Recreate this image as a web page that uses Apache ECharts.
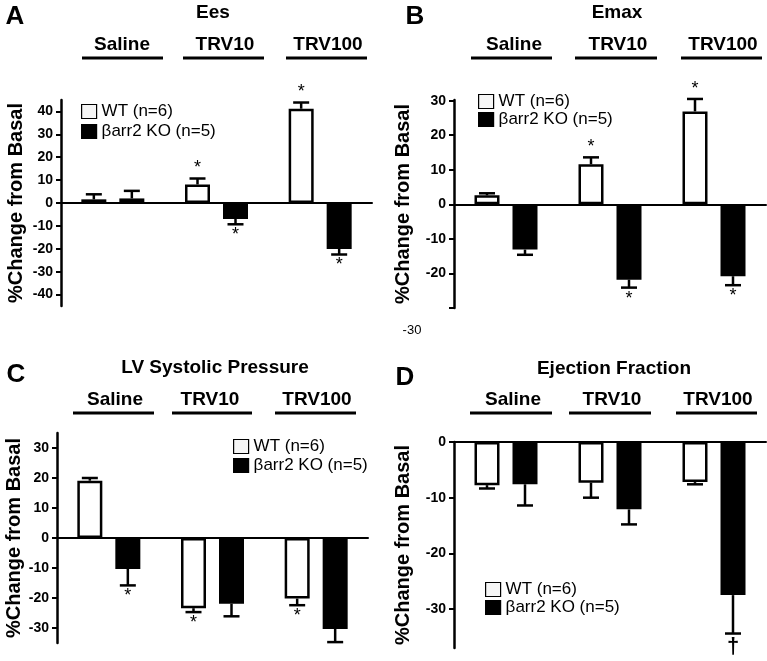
<!DOCTYPE html>
<html><head><meta charset="utf-8">
<script src="https://cdn.jsdelivr.net/npm/echarts@6/dist/echarts.min.js"></script>
<style>html,body{margin:0;padding:0;background:#fff}#c{width:767px;height:661px}</style>
</head><body><div id="c"></div>
<script>
// ---------- data ----------
const categories = ['Saline', 'TRV10', 'TRV100'];
const nameWT = 'WT (n=6)';
const nameKO = 'βarr2 KO (n=5)';
const yAxisName = '%Change from Basal';

// Panel A: Ees
const eesWT = [1.6, 8.1, 41.2];
const eesWTSem = [2.2, 2.6, 2.7];
const eesKO = [2.0, -7.0, -20.1];
const eesKOSem = [3.3, 2.3, 2.4];
const eesWTMark = ['', '*', '*'];
const eesKOMark = ['', '*', '*'];
const eesTicks = [-40, -30, -20, -10, 0, 10, 20, 30, 40];

// Panel B: Emax
const emaxWT = [2.6, 11.6, 26.9];
const emaxWTSem = [0.6, 2.0, 3.6];
const emaxKO = [-13.1, -21.8, -20.8];
const emaxKOSem = [1.5, 2.3, 2.6];
const emaxWTMark = ['', '*', '*'];
const emaxKOMark = ['', '*', '*'];
const emaxTicks = [-30, -20, -10, 0, 10, 20, 30];
const emaxLabels = [-20, -10, 0, 10, 20, 30];

// Panel C: LV Systolic Pressure
const lvspWT = [19.1, -23.4, -20.2];
const lvspWTSem = [0.9, 1.3, 2.2];
const lvspKO = [-10.3, -21.9, -30.3];
const lvspKOSem = [5.5, 4.2, 4.4];
const lvspWTMark = ['', '*', '*'];
const lvspKOMark = ['*', '', ''];
const lvspTicks = [-30, -20, -10, 0, 10, 20, 30];

// Panel D: Ejection Fraction
const efWT = [-7.75, -7.3, -7.2];
const efWTSem = [0.6, 2.7, 0.4];
const efKO = [-7.6, -12.1, -27.5];
const efKOSem = [3.8, 2.7, 6.9];
const efWTMark = ['', '', ''];
const efKOMark = ['', '', '†'];
const efTicks = [-30, -20, -10, 0];

// ---------- layout / style ----------
const FONT = '"Liberation Sans", Arial, sans-serif';
const BAR_W = 25, BAR_GAP_PX = 13, BORDER = 2.5;
const OFFSET = (BAR_W + BAR_GAP_PX) / 2;

const panels = [
  { letter: 'A', title: 'Ees', wt: eesWT, wtSem: eesWTSem, ko: eesKO, koSem: eesKOSem, wtMark: eesWTMark, koMark: eesKOMark,
    ticks: eesTicks, labels: eesTicks, min: -45, max: 45, nameGap: 34.5,
    grid: { left: 61, top: 100, width: 311, height: 206 }, legend: { left: 81, top: 103, gap: 3 } },
  { letter: 'B', title: 'Emax', wt: emaxWT, wtSem: emaxWTSem, ko: emaxKO, koSem: emaxKOSem, wtMark: emaxWTMark, koMark: emaxKOMark,
    ticks: emaxTicks, labels: emaxLabels, min: -30, max: 30.2, nameGap: 41,
    grid: { left: 454, top: 100, width: 312, height: 208 }, legend: { left: 478, top: 93, gap: 1 } },
  { letter: 'C', title: 'LV Systolic Pressure', wt: lvspWT, wtSem: lvspWTSem, ko: lvspKO, koSem: lvspKOSem, wtMark: lvspWTMark, koMark: lvspKOMark,
    ticks: lvspTicks, labels: lvspTicks, min: -35, max: 35, nameGap: 33,
    grid: { left: 57, top: 433, width: 311, height: 210 }, legend: { left: 233, top: 438, gap: 2 } },
  { letter: 'D', title: 'Ejection Fraction', wt: efWT, wtSem: efWTSem, ko: efKO, koSem: efKOSem, wtMark: efWTMark, koMark: efKOMark,
    ticks: efTicks, labels: efTicks, min: -37, max: 0, nameGap: 41,
    grid: { left: 454, top: 442, width: 312, height: 206 }, legend: { left: 485, top: 581, gap: 1 } }
];

// header annotations: [centerX, centerY] and underlines [x1, x2, y]
const letterPos = [[15, 17], [415, 17], [16, 375], [405, 378]];
const titlePos = [[213, 13], [617, 13], [215, 368], [614, 369]];
const groupTextPos = [
  [[122, 45], [225, 45], [328, 45]],
  [[514, 45], [618, 45], [723, 45]],
  [[115, 400], [210, 400], [317, 400]],
  [[513, 400], [612, 400], [718, 400]]
];
const underlines = [
  [[82, 163, 58], [183, 264, 58], [286, 367, 58]],
  [[471, 552, 58], [575, 657, 58], [681, 762, 58]],
  [[73, 154, 413], [172, 252, 413], [275, 356, 413]],
  [[470, 552, 413], [569, 651, 413], [676, 757, 413]]
];

function errRenderer(offset, marks) {
  return function (params, api) {
    const cat = api.value(0), v = api.value(1), s = api.value(2);
    const dir = v >= 0 ? 1 : -1;
    const p0 = api.coord([cat, v]);
    const p1 = api.coord([cat, v + dir * s]);
    const x = p0[0] + offset;
    const children = [
      { type: 'line', shape: { x1: x, y1: p0[1], x2: x, y2: p1[1] }, style: { stroke: '#000', lineWidth: 2.5 } },
      { type: 'line', shape: { x1: x - 8, y1: p1[1], x2: x + 8, y2: p1[1] }, style: { stroke: '#000', lineWidth: 2.5 } }
    ];
    const m = marks[params.dataIndex];
    if (m) {
      const isDagger = m === '†';
      children.push({
        type: 'text', x: x, y: p1[1] + (dir > 0 ? -1 : 2),
        style: { text: m, fill: '#000', fontFamily: FONT, fontSize: isDagger ? 22 : 18, fontWeight: isDagger ? 'bold' : 'normal',
          align: 'center', verticalAlign: dir > 0 ? 'bottom' : 'top' }
      });
    }
    return { type: 'group', children };
  };
}

const grid = [], xAxis = [], yAxis = [], series = [], legend = [], graphic = [];
panels.forEach((p, i) => {
  grid.push(Object.assign({ containLabel: false }, p.grid));
  xAxis.push({
    type: 'category', gridIndex: i, data: categories,
    axisLine: { show: true, onZero: true, lineStyle: { color: '#000', width: 2 } },
    axisTick: { show: false }, axisLabel: { show: false }, splitLine: { show: false }
  });
  yAxis.push({
    type: 'value', gridIndex: i, min: p.min, max: p.max,
    name: yAxisName, nameLocation: 'middle', nameRotate: 90, nameGap: p.nameGap,
    nameTextStyle: { fontFamily: FONT, fontSize: 20, fontWeight: 'bold', color: '#000' },
    axisLine: { show: true, onZero: false, lineStyle: { color: '#000', width: 2.5 } },
    axisTick: { show: true, length: 5, inside: false, customValues: p.ticks, lineStyle: { color: '#000', width: 2 } },
    axisLabel: { customValues: p.labels, fontFamily: FONT, fontSize: 14, fontWeight: 'bold', color: '#000', margin: 8 },
    splitLine: { show: false }
  });
  series.push({
    type: 'bar', name: nameWT, xAxisIndex: i, yAxisIndex: i, data: p.wt,
    barWidth: BAR_W, barGap: (BAR_GAP_PX / BAR_W * 100) + '%',
    itemStyle: { color: '#fff', borderColor: '#000', borderWidth: BORDER }, z: 2
  });
  series.push({
    type: 'bar', name: nameKO, xAxisIndex: i, yAxisIndex: i, data: p.ko,
    barWidth: BAR_W, barGap: (BAR_GAP_PX / BAR_W * 100) + '%',
    itemStyle: { color: '#000', borderColor: '#000', borderWidth: BORDER }, z: 2
  });
  series.push({
    type: 'custom', xAxisIndex: i, yAxisIndex: i, clip: false, z: 3,
    data: p.wt.map((v, k) => [k, v, p.wtSem[k]]), encode: { x: 0, y: 1 },
    renderItem: errRenderer(-OFFSET, p.wtMark), silent: true
  });
  series.push({
    type: 'custom', xAxisIndex: i, yAxisIndex: i, clip: false, z: 3,
    data: p.ko.map((v, k) => [k, v, p.koSem[k]]), encode: { x: 0, y: 1 },
    renderItem: errRenderer(OFFSET, p.koMark), silent: true
  });
  legend.push({
    orient: 'vertical', left: p.legend.left, top: p.legend.top, padding: 0,
    itemWidth: 15, itemHeight: 14, itemGap: p.legend.gap, selectedMode: false,
    data: [
      { name: nameWT, icon: 'rect', itemStyle: { color: '#f6f6f6', borderColor: '#000', borderWidth: 1.2 } },
      { name: nameKO, icon: 'rect', itemStyle: { color: '#000', borderColor: '#000', borderWidth: 1.2 } }
    ],
    textStyle: { fontFamily: FONT, fontSize: 17, color: '#000', padding: [0, 0, 0, 0] }
  });
  graphic.push({ type: 'text', x: letterPos[i][0], y: letterPos[i][1],
    style: { text: p.letter, fontFamily: FONT, fontSize: 26, fontWeight: 'bold', fill: '#000', align: 'center', verticalAlign: 'middle' } });
  graphic.push({ type: 'text', x: titlePos[i][0], y: titlePos[i][1],
    style: { text: p.title, fontFamily: FONT, fontSize: 19, fontWeight: 'bold', fill: '#000', align: 'center', verticalAlign: 'middle' } });
  categories.forEach((c, k) => {
    graphic.push({ type: 'text', x: groupTextPos[i][k][0], y: groupTextPos[i][k][1],
      style: { text: c, fontFamily: FONT, fontSize: 19, fontWeight: 'bold', fill: '#000', align: 'center', verticalAlign: 'middle' } });
    const u = underlines[i][k];
    graphic.push({ type: 'line', shape: { x1: u[0], y1: u[2], x2: u[1], y2: u[2] }, style: { stroke: '#000', lineWidth: 3 } });
  });
});
// stray tick label present in the reference image under panel B
graphic.push({ type: 'text', x: 412, y: 330,
  style: { text: '-30', fontFamily: FONT, fontSize: 13, fill: '#000', align: 'center', verticalAlign: 'middle' } });

const chart = echarts.init(document.getElementById('c'), null, { renderer: 'canvas' });
chart.setOption({
  animation: false, backgroundColor: '#fff',
  grid, xAxis, yAxis, series, legend, graphic
});
</script>
</body></html>
